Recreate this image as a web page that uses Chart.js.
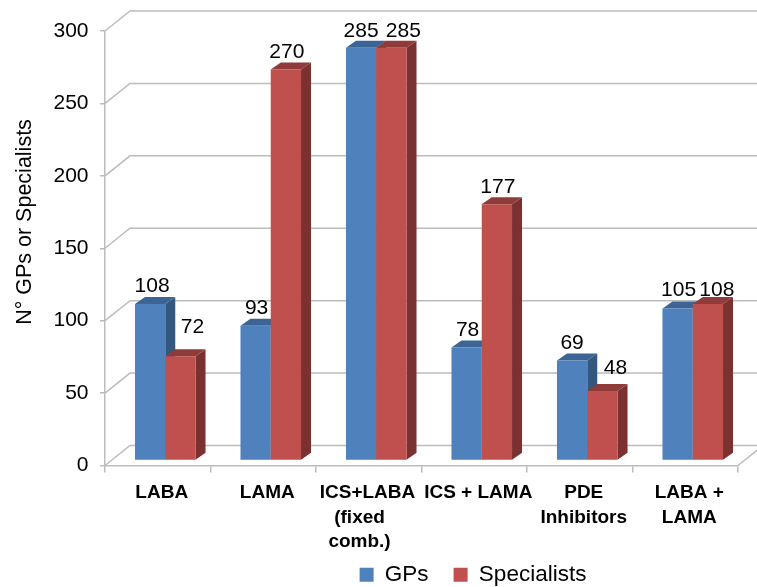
<!DOCTYPE html>
<html>
<head>
<meta charset="utf-8">
<script src="https://cdn.jsdelivr.net/npm/chart.js@4"></script>
<style>
  html, body { margin: 0; padding: 0; background: #fff; }
  #wrap { width: 757px; height: 587px; }
</style>
</head>
<body>
<div id="wrap"><canvas id="chart" width="757" height="587"></canvas></div>
<script>
const categories = [
  ['LABA'],
  ['LAMA'],
  ['ICS+LABA  ', '(fixed     ', 'comb.)     '],
  ['ICS + LAMA'],
  ['PDE', 'Inhibitors'],
  ['LABA +', 'LAMA']
];
const gpValues = [108, 93, 285, 78, 69, 105];
const specialistValues = [72, 270, 285, 177, 48, 108];

// where the numbers sit relative to their bar, the red ones dodge the blue neighbour
const gpLabelDx = [2, 1, 0, 1, 0, 1];
const gpLabelGap = [12, 12, 11, 12, 12, 12];
const specialistLabelDx = [12, 1, 12, 1, 13, 9];
const specialistLabelGap = [23, 11, 11, 11, 17, 8];

const FONT = '"Liberation Sans", Arial, sans-serif';
const GRID = '#bcbcbc';
const BAR_SHIFT = { x: 7.5, y: -5 };
const BAR_DEPTH = { x: 10, y: 7 };
const WALL = { x: 25, y: -20 };

const sideColors = ['#34577f', '#7b3130'];
const topColors = ['#3c6494', '#8e3b39'];

function drawFaces(ctx, meta, i) {
  meta.data.forEach(el => {
    const r = el.x + el.width / 2;
    const l = el.x - el.width / 2;
    ctx.fillStyle = sideColors[i];
    ctx.beginPath();
    ctx.moveTo(r, el.y);
    ctx.lineTo(r + BAR_DEPTH.x, el.y - BAR_DEPTH.y);
    ctx.lineTo(r + BAR_DEPTH.x, el.base - BAR_DEPTH.y);
    ctx.lineTo(r, el.base);
    ctx.closePath();
    ctx.fill();
    ctx.fillStyle = topColors[i];
    ctx.beginPath();
    ctx.moveTo(l, el.y);
    ctx.lineTo(l + BAR_DEPTH.x, el.y - BAR_DEPTH.y);
    ctx.lineTo(r + BAR_DEPTH.x, el.y - BAR_DEPTH.y);
    ctx.lineTo(r, el.y);
    ctx.closePath();
    ctx.fill();
  });
}

const threeD = {
  id: 'threeD',
  afterLayout(chart) {
    // legend sits under the plot, not under the whole canvas
    chart.legend.left = 189;
    chart.legend.right = 757;
    chart.legend.top += 9;
    // three line label must not get clipped by the axis box
    chart.scales.x.bottom = 587;
  },
  beforeDatasetsDraw(chart) {
    const { ctx, scales: { y }, chartArea: area } = chart;
    ctx.save();
    ctx.strokeStyle = GRID;
    ctx.lineWidth = 1.5;
    y.ticks.forEach(t => {
      const py = y.getPixelForValue(t.value);
      ctx.beginPath();
      ctx.moveTo(area.left, py);
      ctx.lineTo(area.left + WALL.x, py + WALL.y);
      ctx.lineTo(757, py + WALL.y);
      ctx.stroke();
    });
    const py0 = y.getPixelForValue(0);
    ctx.beginPath();
    ctx.moveTo(area.right, py0);
    ctx.lineTo(area.right + WALL.x, py0 + WALL.y);
    ctx.stroke();
    ctx.restore();
  },
  // chart.js paints the last dataset first, here red has to land on top of blue
  beforeDatasetDraw(chart, args) {
    if (args.index === 1) return false;
    const { ctx } = chart;
    ctx.save();
    ctx.translate(BAR_SHIFT.x, BAR_SHIFT.y);
    drawFaces(ctx, args.meta, 0);
  },
  afterDatasetDraw(chart) {
    const { ctx } = chart;
    const red = chart.getDatasetMeta(1);
    drawFaces(ctx, red, 1);
    red.controller.draw();
    ctx.restore();
  },
  afterDatasetsDraw(chart) {
    const { ctx } = chart;
    ctx.save();
    ctx.fillStyle = '#000';
    ctx.font = '21px ' + FONT;
    ctx.textAlign = 'center';
    ctx.textBaseline = 'alphabetic';
    const put = (meta, values, dx, gap) => {
      meta.data.forEach((el, i) => {
        ctx.fillText(String(values[i]), el.x + BAR_SHIFT.x + dx[i], el.y + BAR_SHIFT.y - gap[i]);
      });
    };
    put(chart.getDatasetMeta(0), gpValues, gpLabelDx, gpLabelGap);
    put(chart.getDatasetMeta(1), specialistValues, specialistLabelDx, specialistLabelGap);
    // axis title is off centre in the original so it goes here
    ctx.translate(25, 222);
    ctx.rotate(-Math.PI / 2);
    ctx.textBaseline = 'middle';
    ctx.font = '21.5px ' + FONT;
    ctx.fillText('N\u00b0 GPs or Specialists', 0, 0);
    ctx.restore();
  }
};

new Chart(document.getElementById('chart'), {
  type: 'bar',
  data: {
    labels: categories,
    datasets: [
      { label: 'GPs', data: gpValues, backgroundColor: '#4f81bd', clip: false },
      { label: 'Specialists', data: specialistValues, backgroundColor: '#c0504d', clip: false }
    ]
  },
  options: {
    responsive: false,
    animation: false,
    layout: { padding: { top: 31, right: 19, left: 0, bottom: 0 } },
    datasets: { bar: { barPercentage: 1, categoryPercentage: 0.574 } },
    plugins: {
      tooltip: { enabled: false },
      legend: {
        position: 'bottom',
        labels: {
          color: '#000',
          font: { family: FONT, size: 22.5 },
          boxWidth: 14,
          boxHeight: 14,
          padding: 25
        }
      }
    },
    scales: {
      x: {
        afterFit(s) { s.height = 587 - 465.5 - s.chart.legend.height; },
        border: { color: GRID, width: 1.5 },
        grid: { drawOnChartArea: false, color: GRID, lineWidth: 1.5, tickLength: 7 },
        ticks: {
          color: '#000',
          font: { family: FONT, size: 19, weight: 'bold', lineHeight: 1.3 },
          autoSkip: false,
          maxRotation: 0,
          minRotation: 0,
          padding: 8,
          labelOffset: 4
        }
      },
      y: {
        min: 0,
        max: 300,
        afterFit(s) { s.width = 105; },
        border: { color: GRID, width: 1.5 },
        grid: { drawOnChartArea: false, color: GRID, lineWidth: 1.5, tickLength: 5 },
        ticks: {
          stepSize: 50,
          color: '#000',
          font: { family: FONT, size: 21 },
          padding: 11.5
        }
      }
    }
  },
  plugins: [threeD]
});
</script>
</body>
</html>
